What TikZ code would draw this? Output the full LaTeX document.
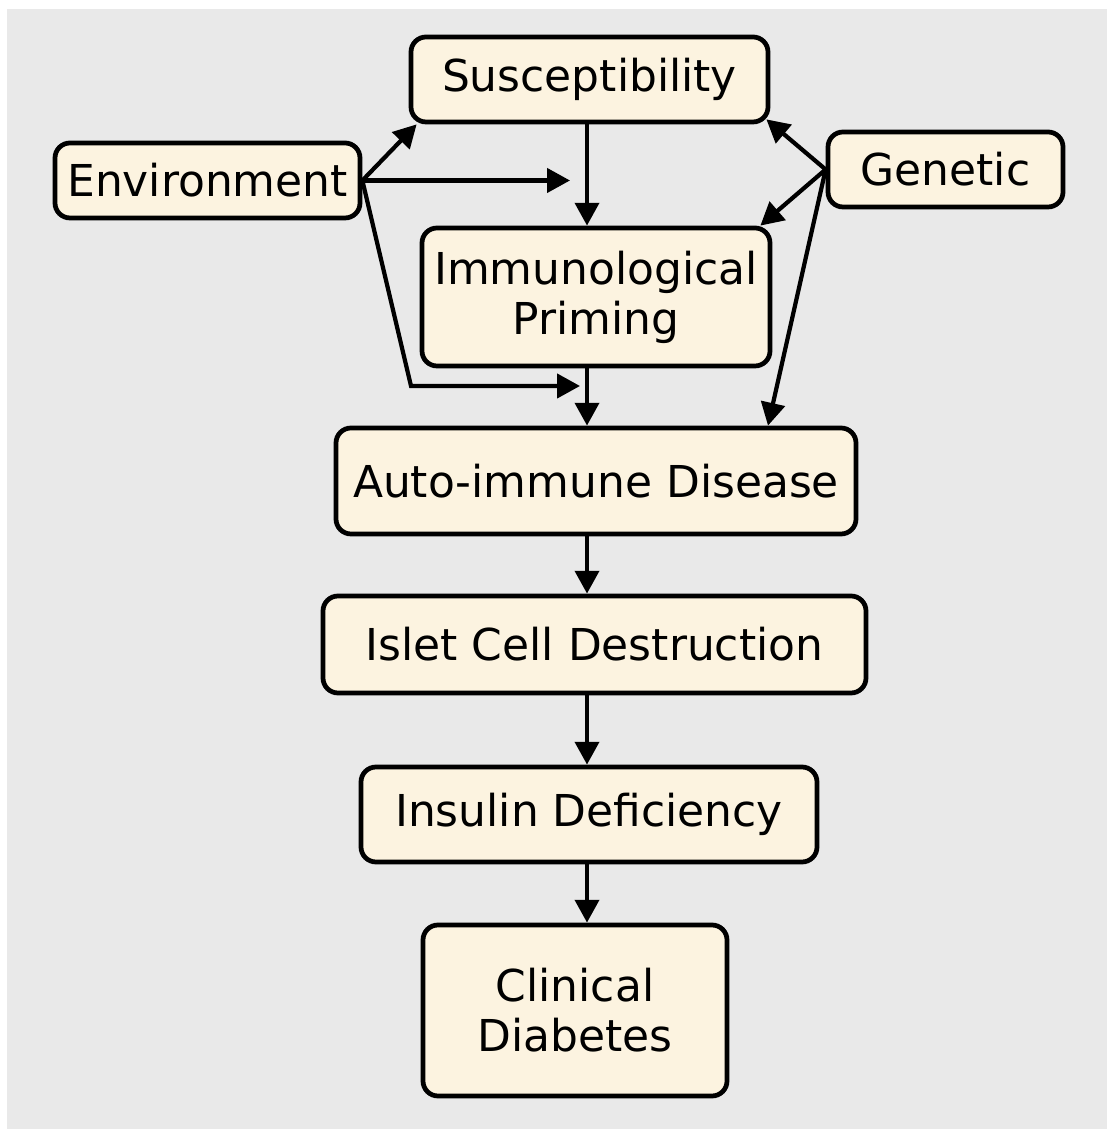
\documentclass[tikz,border=0pt]{standalone}
\usepackage{fontspec}
\setmainfont{DejaVu Sans}
\usetikzlibrary{arrows.meta}
\definecolor{boxfill}{RGB}{252,243,224}
\definecolor{backgray}{RGB}{233,233,233}

\begin{document}
\begin{tikzpicture}[>={Triangle[length=6.5pt,width=6.8pt]}, line width=1.2pt,
		box/.style={draw, line width=1.35pt, rounded corners=0.15cm, fill=boxfill, align=center, inner sep=0pt, font=\fontsize{12.5}{14.2}\selectfont}]
			\useasboundingbox (0,0) rectangle (11.07,11.29);
			\fill[backgray] (0.07,0) rectangle (11.07,11.20);
			% causes
			\node[box, minimum width=3.57cm, minimum height=0.85cm] (susc) at (5.895,10.495) {Susceptibility};
			\node[box, minimum width=3.05cm, minimum height=0.75cm] (env) at (2.075,9.485) {Environment};
			\node[box, minimum width=2.35cm, minimum height=0.75cm] (gen) at (9.455,9.595) {Genetic};
			\node[box, minimum width=3.48cm, minimum height=1.38cm] (immu) at (5.96,8.32) {Immunological\\Priming};
			% course of the disease
			\node[box, minimum width=5.20cm, minimum height=1.06cm] (auto) at (5.96,6.48) {Auto-immune Disease};
			\node[box, minimum width=5.43cm, minimum height=0.97cm] (islet) at (5.945,4.845) {Islet Cell Destruction};
			\node[box, minimum width=4.56cm, minimum height=0.95cm] (insul) at (5.89,3.145) {Insulin Deficiency};
			\node[box, minimum width=3.04cm, minimum height=1.71cm] (clin) at (5.75,1.185) {Clinical\\Diabetes};
			\coordinate (spine) at (5.87,0);
			\coordinate (envmid) at (5.70,9.485);
			\coordinate (envbend) at (4.11,7.43);
			\coordinate (envlow) at (5.80,7.43);
			\draw[->] (susc.south -| spine) -- (immu.north -| spine);
			\draw[->] (immu.south -| spine) -- (auto.north -| spine);
			\draw[->] (auto.south -| spine) -- (islet.north -| spine);
			\draw[->] (islet.south -| spine) -- (insul.north -| spine);
			\draw[->] (insul.south -| spine) -- (clin.north -| spine);
			% environment
			\draw[->] (env.east) -- ([xshift=0.08cm]susc.south west);
			\draw[->] (env.east) -- (envmid);
			\draw[->] (env.east) -- (envbend) -- (envlow);
			% genetic
			\draw[->] (gen.west) -- ([xshift=-0.04cm,yshift=0.05cm]susc.south east);
			\draw[->] (gen.west) -- ([xshift=-0.12cm]immu.north east);
			\draw[->] (gen.west) -- ([xshift=1.72cm]auto.north);
		\end{tikzpicture}
\end{document}
